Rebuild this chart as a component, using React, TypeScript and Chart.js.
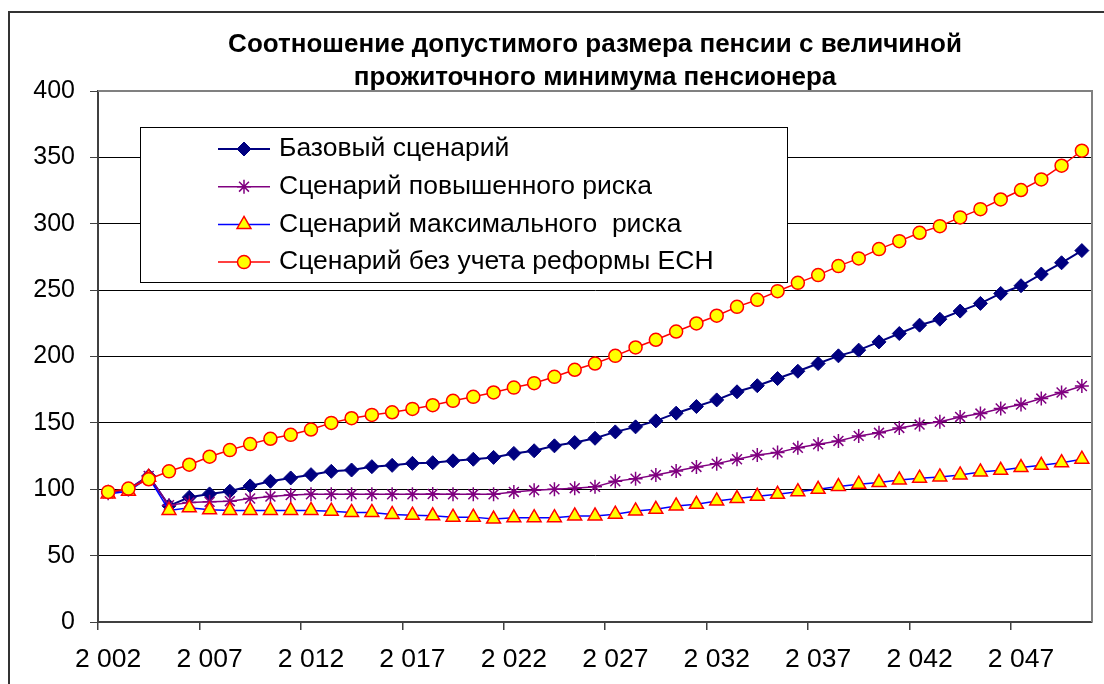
import React, { useEffect, useRef } from "react";
import { Chart, registerables } from "chart.js";

Chart.register(...registerables);

const titleLines = [
  "Соотношение допустимого размера пенсии с величиной",
  "прожиточного минимума пенсионера",
];

const years = [
  "2002", "2003", "2004", "2005", "2006", "2007", "2008", "2009", "2010", "2011",
  "2012", "2013", "2014", "2015", "2016", "2017", "2018", "2019", "2020", "2021",
  "2022", "2023", "2024", "2025", "2026", "2027", "2028", "2029", "2030", "2031",
  "2032", "2033", "2034", "2035", "2036", "2037", "2038", "2039", "2040", "2041",
  "2042", "2043", "2044", "2045", "2046", "2047", "2048", "2049", "2050",
];

const xTickLabels = ["2 002", "2 007", "2 012", "2 017", "2 022", "2 027", "2 032", "2 037", "2 042", "2 047"];

const seriesNames = [
  "Базовый сценарий",
  "Сценарий повышенного риска",
  "Сценарий максимального  риска",
  "Сценарий без учета реформы ЕСН",
];

const baseScenario = [
  98, 100, 110, 87.5, 94, 96.5, 98.5, 102.5, 106, 108.5,
  111, 113.5, 114.5, 117, 118, 119.5, 120, 121.4, 122.6, 124,
  127, 129, 132.7, 135.2, 138.4, 143.2, 147, 151.5, 157.3, 162.3,
  167.3, 173.4, 178, 183.4, 188.9, 194.7, 200.5, 204.8, 211, 217.3,
  223.6, 228.1, 234.2, 240, 247.5, 253.3, 262.1, 270.6, 279.8,
];

const elevatedRisk = [
  97, 100, 110, 88, 90, 90.5, 91, 93, 94.5, 95.7,
  96.2, 96.2, 96.2, 96.2, 96.2, 96.2, 96.4, 96.2, 96.2, 96.2,
  98, 99.2, 100, 100.8, 101.8, 106, 108, 110.8, 113.8, 116.8,
  119.3, 122.6, 125.8, 127.6, 131.2, 133.9, 136.4, 140.2, 142.5, 146.2,
  148.7, 150.8, 154.5, 157, 160.8, 163.8, 168.3, 172.9, 177.8,
];

const maxRisk = [
  96.5, 98.5, 109, 84, 86, 84.5, 84, 84, 84, 84,
  84, 83.5, 82.5, 82.5, 81, 80.5, 80, 79, 79, 77.5,
  78.5, 78.6, 78.6, 79.9, 79.9, 81.2, 83.7, 84.9, 87.4, 88.7,
  91.2, 93, 94.7, 96.2, 98.2, 100, 102, 103.8, 105, 107,
  108.3, 109.3, 110.8, 113, 114.3, 116.3, 118, 120, 122.6,
];

const noReform = [
  98, 100.5, 107.5, 113.5, 118.5, 124.5, 129.5, 134, 138, 141,
  145, 150, 153.5, 156, 158, 160.5, 163.3, 166.6, 169.6, 172.9,
  176.6, 179.9, 184.7, 190, 194.7, 200.5, 206.8, 212.6, 218.8, 224.9,
  230.7, 237.4, 242.7, 249.2, 255.5, 261.3, 268.1, 273.9, 280.9, 286.9,
  293.2, 298.2, 304.8, 311, 318.3, 325.4, 333.4, 343.7, 355,
];

const FONT = 'Arial, "Liberation Sans", sans-serif';

function drawMarker(ctx: CanvasRenderingContext2D, style: string, x: number, y: number, r: number, fill: string, stroke: string, bw: number) {
  ctx.save();
  ctx.beginPath();
  ctx.lineWidth = bw;
  ctx.strokeStyle = stroke;
  ctx.fillStyle = fill;
  if (style === "circle") {
    ctx.arc(x, y, r, 0, Math.PI * 2);
    ctx.closePath();
    ctx.fill();
    ctx.stroke();
  } else if (style === "rectRot") {
    ctx.moveTo(x, y - r);
    ctx.lineTo(x + r, y);
    ctx.lineTo(x, y + r);
    ctx.lineTo(x - r, y);
    ctx.closePath();
    ctx.fill();
    ctx.stroke();
  } else if (style === "triangle") {
    const c = Math.cos(Math.PI / 6) * r;
    ctx.moveTo(x, y - r);
    ctx.lineTo(x + c, y + r / 2);
    ctx.lineTo(x - c, y + r / 2);
    ctx.closePath();
    ctx.fill();
    ctx.stroke();
  } else if (style === "star") {
    const d = r * Math.SQRT1_2;
    ctx.moveTo(x, y - r);
    ctx.lineTo(x, y + r);
    ctx.moveTo(x - r, y);
    ctx.lineTo(x + r, y);
    ctx.moveTo(x - d, y - d);
    ctx.lineTo(x + d, y + d);
    ctx.moveTo(x - d, y + d);
    ctx.lineTo(x + d, y - d);
    ctx.stroke();
  }
  ctx.restore();
}

const framePlugin = {
  id: "frame",
  beforeDraw(chart: any) {
    const ctx = chart.ctx as CanvasRenderingContext2D;
    ctx.save();
    ctx.fillStyle = "#ffffff";
    ctx.fillRect(0, 0, chart.width, chart.height);
    ctx.strokeStyle = "#333333";
    ctx.lineWidth = 2;
    ctx.strokeRect(9, 12, chart.width + 40, chart.height + 40);
    ctx.restore();
  },
  beforeDatasetsDraw(chart: any) {
    const ctx = chart.ctx as CanvasRenderingContext2D;
    const a = chart.chartArea;
    ctx.save();
    ctx.strokeStyle = "#808080";
    ctx.lineWidth = 2;
    ctx.beginPath();
    ctx.moveTo(a.left, a.top);
    ctx.lineTo(a.right, a.top);
    ctx.lineTo(a.right, a.bottom);
    ctx.stroke();
    ctx.restore();
  },
};

const legendPlugin = {
  id: "boxLegend",
  afterDatasetsDraw(chart: any) {
    const ctx = chart.ctx as CanvasRenderingContext2D;
    const a = chart.chartArea;
    const x0 = a.left + 42;
    const y0 = a.top + 36;
    const w = 647;
    const h = 155;
    ctx.save();
    ctx.fillStyle = "#ffffff";
    ctx.fillRect(x0, y0, w, h);
    ctx.strokeStyle = "#000000";
    ctx.lineWidth = 1;
    ctx.strokeRect(x0 + 0.5, y0 + 0.5, w, h);
    chart.data.datasets.forEach((ds: any, i: number) => {
      const cy = y0 + 22 + i * 37.7;
      ctx.strokeStyle = ds.borderColor;
      ctx.lineWidth = ds.borderWidth;
      ctx.beginPath();
      ctx.moveTo(x0 + 78, cy);
      ctx.lineTo(x0 + 130, cy);
      ctx.stroke();
      drawMarker(ctx, ds.pointStyle, x0 + 104, cy, ds.pointRadius, ds.pointBackgroundColor, ds.pointBorderColor, ds.pointBorderWidth);
      ctx.fillStyle = "#000000";
      ctx.font = `26.5px ${FONT}`;
      ctx.textBaseline = "middle";
      ctx.textAlign = "left";
      ctx.fillText(ds.label, x0 + 139, cy);
    });
    ctx.restore();
  },
};

export default function App() {
  const canvasRef = useRef<HTMLCanvasElement | null>(null);

  useEffect(() => {
    const canvas = canvasRef.current;
    if (!canvas) return;
    const chart = new Chart(canvas, {
      type: "line",
      data: {
        labels: years,
        datasets: [
          {
            label: seriesNames[0],
            data: baseScenario,
            borderColor: "#000080",
            backgroundColor: "#000080",
            borderWidth: 2,
            pointStyle: "rectRot",
            pointRadius: 7,
            pointBackgroundColor: "#000080",
            pointBorderColor: "#000080",
            pointBorderWidth: 1,
            tension: 0,
            order: 4,
          },
          {
            label: seriesNames[1],
            data: elevatedRisk,
            borderColor: "#800080",
            backgroundColor: "#800080",
            borderWidth: 1.5,
            pointStyle: "star",
            pointRadius: 7,
            pointBackgroundColor: "#800080",
            pointBorderColor: "#800080",
            pointBorderWidth: 1.5,
            tension: 0,
            order: 3,
          },
          {
            label: seriesNames[2],
            data: maxRisk,
            borderColor: "#0000FF",
            backgroundColor: "#FFFF00",
            borderWidth: 1.5,
            pointStyle: "triangle",
            pointRadius: 8,
            pointBackgroundColor: "#FFFF00",
            pointBorderColor: "#FF0000",
            pointBorderWidth: 1.5,
            tension: 0,
            order: 2,
          },
          {
            label: seriesNames[3],
            data: noReform,
            borderColor: "#FF0000",
            backgroundColor: "#FFFF00",
            borderWidth: 1.5,
            pointStyle: "circle",
            pointRadius: 6.5,
            pointBackgroundColor: "#FFFF00",
            pointBorderColor: "#FF0000",
            pointBorderWidth: 1.5,
            tension: 0,
            order: 1,
          },
        ],
      },
      options: {
        animation: false,
        responsive: false,
        maintainAspectRatio: false,
        events: [],
        layout: { padding: { left: 0, right: 12, top: 0, bottom: 0 } },
        plugins: {
          legend: { display: false },
          tooltip: { enabled: false },
          title: {
            display: true,
            fullSize: false,
            text: titleLines,
            color: "#000000",
            font: { family: FONT, size: 26, weight: "bold", lineHeight: 1.25 },
            padding: { top: 29, bottom: -3 },
          },
        },
        scales: {
          x: {
            type: "category",
            offset: true,
            grid: {
              offset: true,
              drawOnChartArea: false,
              drawTicks: true,
              tickLength: 8,
              lineWidth: 1.5,
              color: (c: any) => (c.index % 5 === 0 ? "#404040" : "rgba(0,0,0,0)"),
              tickColor: (c: any) => (c.index % 5 === 0 ? "#404040" : "rgba(0,0,0,0)"),
            },
            border: { color: "#404040", width: 2 },
            ticks: {
              autoSkip: false,
              maxRotation: 0,
              minRotation: 0,
              padding: 14,
              color: "#000000",
              font: { family: FONT, size: 26.5 },
              callback: (_v: any, i: number) => (i % 5 === 0 ? xTickLabels[i / 5] : ""),
            },
            afterFit: (s: any) => {
              s.height = 62;
            },
          },
          y: {
            min: 0,
            max: 400,
            ticks: {
              stepSize: 50,
              padding: 15,
              color: "#000000",
              font: { family: FONT, size: 25 },
            },
            grid: {
              color: "#000000",
              lineWidth: 1,
              drawTicks: true,
              tickLength: 8,
              tickColor: "#404040",
            },
            border: { color: "#404040", width: 2 },
            afterFit: (s: any) => {
              s.width = 98;
            },
          },
        },
      },
      plugins: [framePlugin, legendPlugin],
    } as any);
    return () => chart.destroy();
  }, []);

  return (
    <div style={{ position: "absolute", left: 0, top: 0, width: 1104, height: 684 }}>
      <canvas ref={canvasRef} width={1104} height={684} style={{ display: "block", width: 1104, height: 684 }} />
    </div>
  );
}
